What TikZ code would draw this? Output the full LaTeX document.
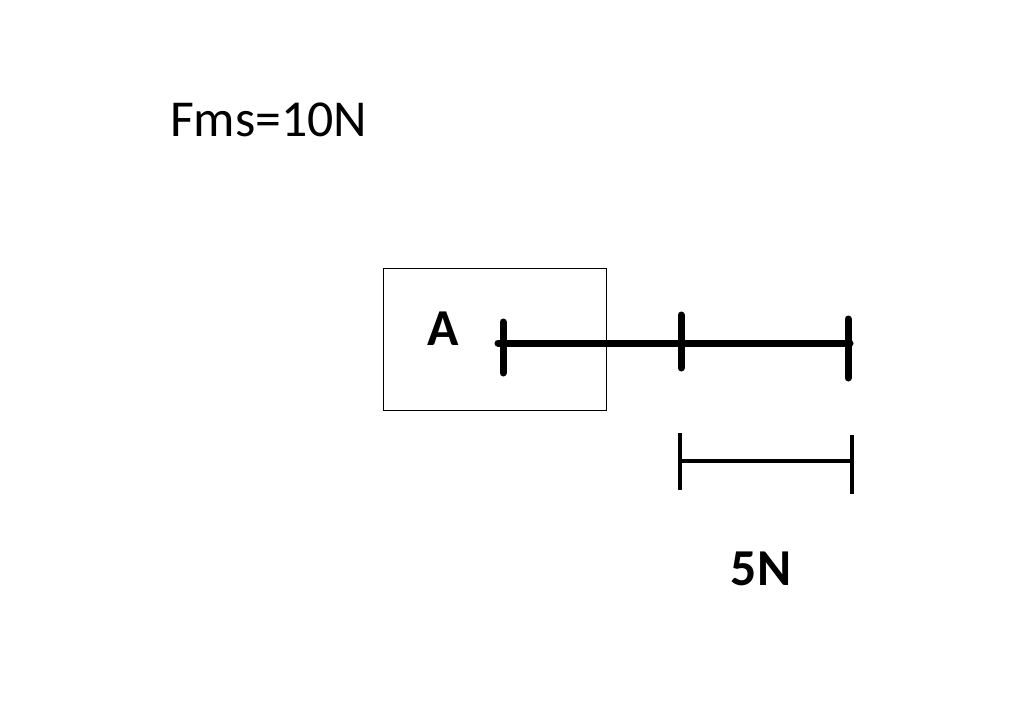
\documentclass[tikz,border=0pt]{standalone}
\usepackage{fontspec}
\setmainfont{Carlito}
\begin{document}
\begin{tikzpicture}[x=1bp,y=-1bp,
  lbl/.style={inner sep=0pt,font=\fontsize{52}{60}\selectfont},
  thick vec/.style={line width=7bp,line cap=round},
  scale bar/.style={line width=4.5bp}]
\useasboundingbox (0,0) rectangle (1024,711);
\node[lbl,anchor=base west] (f) at (170,137) {Fms=10N};
\node[draw,line width=1.2bp,minimum width=223bp,minimum height=142bp,anchor=north west] (box) at (383,268) {};
\node[lbl,anchor=base,font=\fontsize{52}{60}\selectfont\bfseries] (a) at (443,345) {A};
\coordinate (s) at (498,343); \coordinate (e) at (850,343);
\draw[thick vec] (s) -- (e);
\draw[thick vec] (503,322) -- (503,373);
\draw[thick vec] (681,315) -- (681,368);
\draw[thick vec] (848,319) -- (848,378);
\coordinate (bs) at (680,461); \coordinate (be) at (852,461);
\draw[scale bar] (bs) -- (be);
\draw[scale bar] (680,433) -- (680,490);
\draw[scale bar] (852,435) -- (852,494);
\node[lbl,anchor=base,font=\fontsize{52}{60}\selectfont\bfseries] (n) at (761,585) {5N};
\end{tikzpicture}
\end{document}
